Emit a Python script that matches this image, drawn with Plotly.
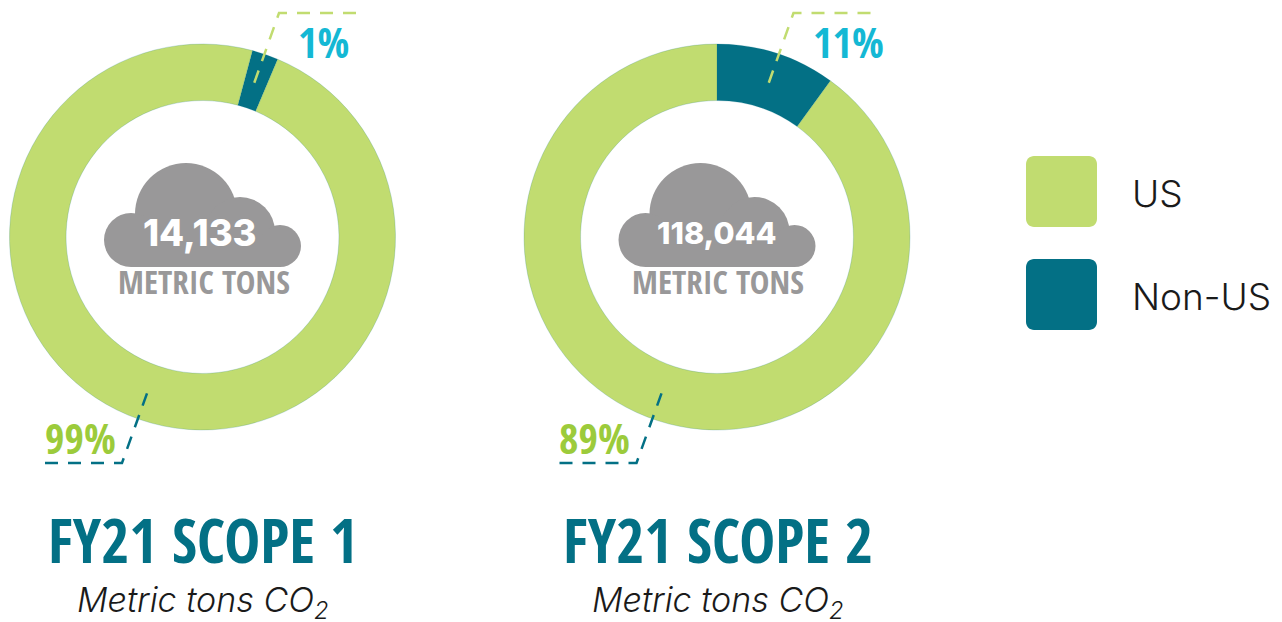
import plotly.graph_objects as go

W, H = 1282, 622
categories = ["US", "Non-US"]
scope1_values = [97.8, 2.2]
scope2_values = [90, 10]
scope1_labels = ["99%", "1%"]
scope2_labels = ["89%", "11%"]
scope1_total = "14,133"
scope2_total = "118,044"
titles = ["FY21 SCOPE 1", "FY21 SCOPE 2"]
subtitle = "<i>Metric tons CO<sub>2</sub></i>"

GREEN = "#c1dc70"
TEAL = "#037085"
CYAN = "#14b8d4"
LIME = "#9ccb3b"
GRAY = "#999899"
NARROW = "Open Sans Condensed"
SANS = "Inter"


def px(x):
    return x / W


def py(y):
    return 1 - y / H


fig = go.Figure()
for vals, cx, rot in [(scope1_values, 202.5, 15), (scope2_values, 717, 0)]:
    fig.add_trace(go.Pie(
        labels=categories[::-1], values=vals[::-1], sort=False, direction="clockwise",
        rotation=rot, hole=0.707, textinfo="none", hoverinfo="label+percent",
        marker=dict(colors=[TEAL, GREEN], line=dict(width=0.2, color=TEAL)),
        domain=dict(x=[px(cx - 193), px(cx + 193)], y=[py(430), py(44)]),
        showlegend=False,
    ))

shapes = []
annotations = []


def text(x, y, s, size, color, family=SANS, weight=400, anchor="center"):
    annotations.append(dict(
        x=px(x), y=py(y), xref="paper", yref="paper", text=s, showarrow=False,
        xanchor=anchor, yanchor="middle",
        font=dict(size=size, color=color, family=family, weight=weight),
    ))


def circle(cx, cy, r, color):
    shapes.append(dict(type="circle", xref="paper", yref="paper", layer="below",
                       x0=px(cx - r), x1=px(cx + r), y0=py(cy + r), y1=py(cy - r),
                       fillcolor=color, line=dict(width=0)))


def leader(points, color):
    d = "M" + " L".join(f"{px(x):.5f},{py(y):.5f}" for x, y in points)
    shapes.append(dict(type="path", xref="paper", yref="paper", path=d, layer="above",
                       line=dict(color=color, width=2.5, dash="13px,10px")))


def swatch(x0, y0, x1, y1, r, color):
    k = r * 0.45
    p = [("M", x0 + r, y0), ("L", x1 - r, y0), ("C", x1 - k, y0, x1, y0 + k, x1, y0 + r),
         ("L", x1, y1 - r), ("C", x1, y1 - k, x1 - k, y1, x1 - r, y1),
         ("L", x0 + r, y1), ("C", x0 + k, y1, x0, y1 - k, x0, y1 - r),
         ("L", x0, y0 + r), ("C", x0, y0 + k, x0 + k, y0, x0 + r, y0)]
    d = ""
    for seg in p:
        coords = seg[1:]
        d += seg[0] + " ".join(f"{px(coords[i]):.5f},{py(coords[i+1]):.5f}" for i in range(0, len(coords), 2)) + " "
    shapes.append(dict(type="path", xref="paper", yref="paper", path=d + "Z",
                       fillcolor=color, line=dict(width=0)))


for i, dx in enumerate([0, 514.5]):
    for cx, cy, r in [(186, 214, 51), (240, 232, 35), (131, 240, 27), (280, 246, 21)]:
        circle(cx + dx, cy, r, GRAY)
    shapes.append(dict(type="rect", xref="paper", yref="paper", layer="below",
                       x0=px(131 + dx), x1=px(280 + dx), y0=py(267), y1=py(235),
                       fillcolor=GRAY, line=dict(width=0)))
    leader([(45 + dx, 463), (122 + dx, 463), (150 + dx, 385)], TEAL)
    leader([(356 + dx, 13), (279 + dx, 13), (251 + dx, 92)], GREEN)
    labels = [scope1_labels, scope2_labels][i]
    text(80 + dx, 437, labels[0], 42, LIME, NARROW, 700)
    text(323 + dx + (i * 11), 42, labels[1], 42, CYAN, NARROW, 700)
    total = [scope1_total, scope2_total][i]
    text(200 + dx + i * 2, 233, total, [36.5, 30.5][i], "white", SANS, 800)
    text(203.5 + dx, 281, "METRIC TONS", 33, GRAY, NARROW, 700)
    text(203 + dx, 539, titles[i], 60.5, TEAL, NARROW, 700)
    text(203 + dx, 602, subtitle, 34, "#1a1a1a", SANS, 300)

swatch(1026, 156, 1097, 227, 8, GREEN)
swatch(1026, 259, 1097, 330, 8, TEAL)
text(1130, 193, categories[0], 37, "#1a1a1a", SANS, 300, "left")
text(1130, 296, categories[1], 37, "#1a1a1a", SANS, 300, "left")

fig.update_layout(width=W, height=H, margin=dict(l=0, r=0, t=0, b=0),
                  paper_bgcolor="white", plot_bgcolor="white",
                  shapes=shapes, annotations=annotations)
fig.write_html("out.html", config={"displayModeBar": False},
               post_script="document.body.style.margin='0';")
